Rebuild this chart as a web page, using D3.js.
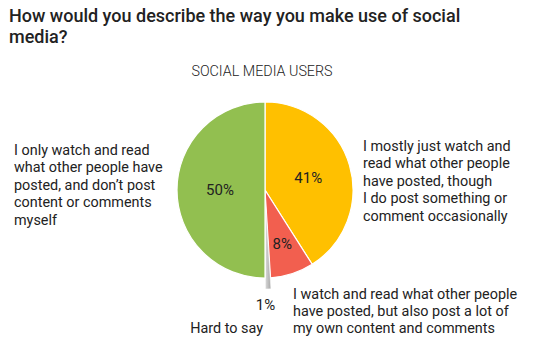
<!DOCTYPE html>
<html>
<head>
<meta charset="utf-8">
<script src="https://cdn.jsdelivr.net/npm/d3@7"></script>
<style>
  body { margin: 0; background: #fff; }
  text { font-family: Roboto, "Noto Sans", sans-serif; fill: #222; }
</style>
</head>
<body>
<div id="chart"></div>
<script>
// Chart data
const categories = ["mostly", "alot", "hard", "only"];
const values = [41, 8, 1, 50];
const pctLabels = ["41%", "8%", "1%", "50%"];
const colors = ["#FFC000", "#F25F4F", "#C4C4C4", "#92BF50"];
const catLabels = [
    ["I mostly just watch and", "read what other people", "have posted, though", "I do post something or", "comment occasionally"],
    ["I watch and read what other people", "have posted, but also post a lot of", "my own content and comments"],
    ["Hard to say"],
    ["I only watch and read", "what other people have", "posted, and don\u2019t post", "content or comments", "myself"]
];
const titleLines = ["How would you describe the way you make use of social", "media?"];
const subtitle = "SOCIAL MEDIA USERS";

// Layout
const width = 534, height = 352;
const cx = 265, cy = 190, radius = 88;
const explode = { hard: 11 };
const pctRadius = { mostly: 45, alot: 56, only: 45 };
const lineH = 17.4;
const labelFont = "14.4px";
// where each category text block starts (x, first baseline, anchor)
const labelPos = {
    mostly: [363, 151, "start"],
    alot: [293, 299, "start"],
    hard: [263, 333, "end"],
    only: [14, 155, "start"]
};

const svg = d3.select("#chart").append("svg")
    .attr("width", width)
    .attr("height", height);

// Title
svg.append("text")
    .attr("x", 9)
    .attr("y", 22)
    .style("font-size", "18px")
    .style("font-weight", 500)
    .selectAll("tspan")
    .data(titleLines)
    .enter().append("tspan")
    .attr("x", 9)
    .attr("dy", (d, i) => i ? 21 : 0)
    .text(d => d);

svg.append("text")
    .attr("x", 262)
    .attr("y", 76)
    .attr("text-anchor", "middle")
    .style("font-size", "14.3px")
    .style("font-weight", 300)
    .text(subtitle);

const data = categories.map((c, i) => ({ cat: c, value: values[i], pct: pctLabels[i], color: colors[i], lines: catLabels[i] }));

const pie = d3.pie().sort(null).value(d => d.value);
const arc = d3.arc().innerRadius(0).outerRadius(radius);
const arcs = pie(data);

const g = svg.append("g").attr("transform", `translate(${cx},${cy})`);

const grad = svg.append("defs").append("linearGradient")
    .attr("id", "greyGrad")
    .attr("x1", "0").attr("x2", "1").attr("y1", "0").attr("y2", "0");
grad.append("stop").attr("offset", "0%").attr("stop-color", "#D9D9D9");
grad.append("stop").attr("offset", "100%").attr("stop-color", "#A6A6A6");

g.selectAll("path")
    .data(arcs)
    .enter().append("path")
    .attr("d", arc)
    .attr("transform", d => {
        const off = explode[d.data.cat] || 0;
        const a = (d.startAngle + d.endAngle) / 2;
        return `translate(${off * Math.sin(a)},${-off * Math.cos(a)})`;
    })
    .style("fill", d => d.data.cat === "hard" ? "url(#greyGrad)" : d.data.color)
    .style("stroke", "#fff")
    .style("stroke-width", d => d.data.cat === "hard" ? 0.5 : 1.2);

// Percent labels inside slices
g.selectAll(".pct")
    .data(arcs.filter(d => pctRadius[d.data.cat]))
    .enter().append("text")
    .attr("class", "pct")
    .attr("x", d => pctRadius[d.data.cat] * Math.sin((d.startAngle + d.endAngle) / 2))
    .attr("y", d => -pctRadius[d.data.cat] * Math.cos((d.startAngle + d.endAngle) / 2))
    .attr("dy", "0.35em")
    .attr("text-anchor", "middle")
    .style("font-size", "15px")
    .text(d => d.data.pct);

// 1% outside label
svg.append("text")
    .attr("x", 265.5)
    .attr("y", 310)
    .attr("text-anchor", "middle")
    .style("font-size", "15px")
    .text(data[2].pct);

// Category labels
data.forEach(d => {
    const p = labelPos[d.cat];
    const t = svg.append("text")
        .attr("x", p[0])
        .attr("y", p[1])
        .attr("text-anchor", p[2])
        .style("font-size", labelFont);
    t.selectAll("tspan")
        .data(d.lines)
        .enter().append("tspan")
        .attr("x", p[0])
        .attr("dy", (l, i) => i ? (d.cat === "alot" ? 17 : lineH) : 0)
        .text(l => l);
});
</script>
</body>
</html>
